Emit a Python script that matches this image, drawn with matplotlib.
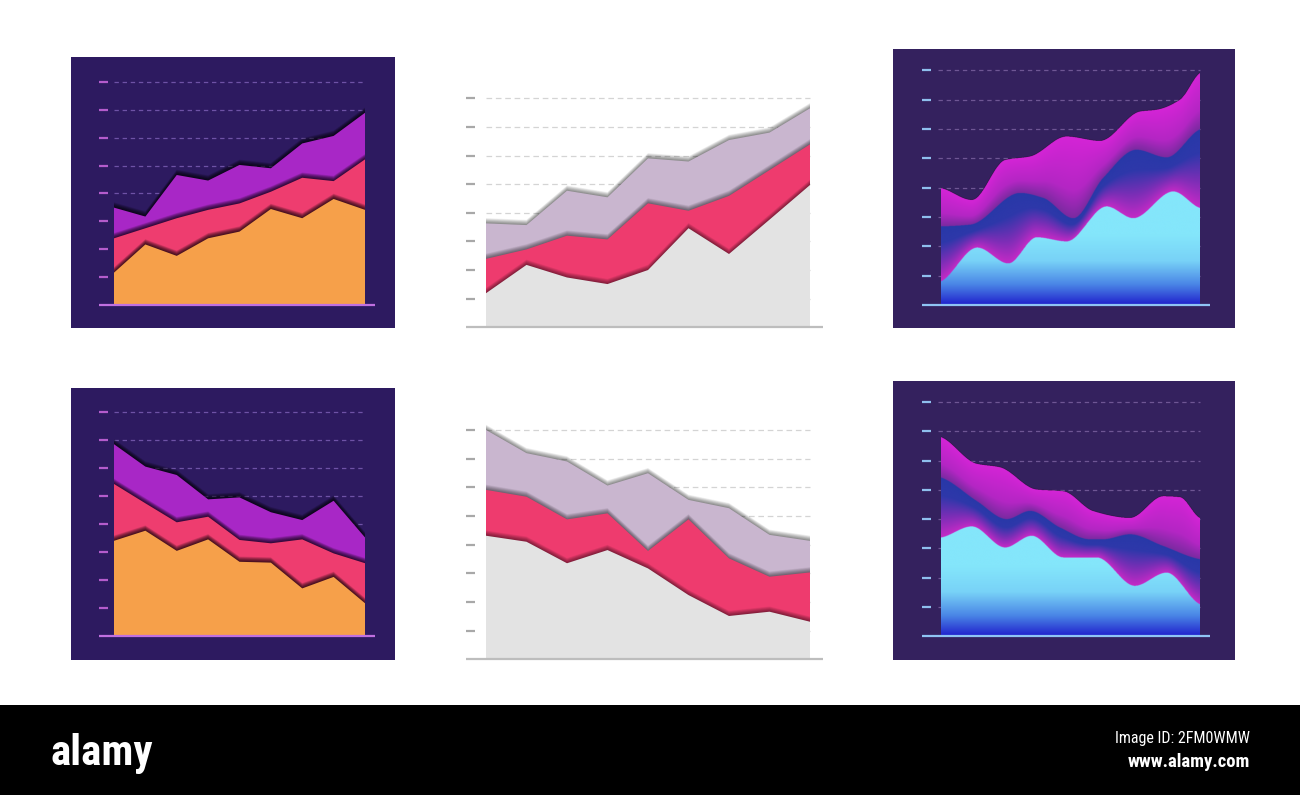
import numpy as np
import matplotlib
matplotlib.use('Agg')
import matplotlib.pyplot as plt
import matplotlib.patheffects as pe
from matplotlib.patches import Rectangle
from matplotlib.colors import to_rgb
from matplotlib import font_manager

W, H = 1300, 795

# ---------------- data ----------------
step_x = [0, 1, 2, 3, 4, 5, 6, 7, 8]
levels = [1, 2, 3, 4, 5, 6, 7, 8]

# top-left: rising, dark panel (cumulative tops)
tl_orange = [1.16, 2.17, 1.76, 2.39, 2.63, 3.44, 3.11, 3.80, 3.41]
tl_pink   = [2.39, 2.75, 3.11, 3.41, 3.64, 4.06, 4.56, 4.44, 5.22]
tl_purple = [3.49, 3.17, 4.66, 4.46, 5.02, 4.90, 5.79, 6.06, 6.89]

# top-middle: rising, white
tm_gray   = [1.19, 2.18, 1.74, 1.51, 2.00, 3.46, 2.56, 3.76, 4.97]
tm_pink   = [2.39, 2.72, 3.20, 3.07, 4.33, 4.07, 4.59, 5.49, 6.39]
tm_lav    = [3.63, 3.57, 4.77, 4.54, 5.90, 5.79, 6.54, 6.80, 7.65]

# bottom-left: falling, dark panel
bl_orange = [3.40, 3.76, 3.04, 3.45, 2.65, 2.62, 1.70, 2.11, 1.17]
bl_pink   = [5.43, 4.74, 4.06, 4.26, 3.43, 3.31, 3.45, 2.95, 2.60]
bl_purple = [6.85, 6.05, 5.75, 4.88, 4.95, 4.42, 4.14, 4.83, 3.52]

# bottom-middle: falling, white
bm_gray   = [4.31, 4.10, 3.35, 3.81, 3.17, 2.24, 1.51, 1.66, 1.31]
bm_pink   = [5.91, 5.67, 4.88, 5.09, 3.78, 4.88, 3.52, 2.88, 3.03]
bm_lav    = [8.00, 7.19, 6.90, 6.06, 6.49, 5.56, 5.27, 4.34, 4.13]

# top-right: smooth waves, rising
tr_cyan_x = [0, 1.12, 2.08, 2.96, 3.88, 5.12, 5.94, 7.18, 8.0]
tr_cyan   = [0.80, 1.95, 1.41, 2.30, 2.16, 3.35, 2.95, 3.86, 3.30]
tr_blue_x = [0, 0.90, 2.44, 3.16, 4.09, 5.01, 6.04, 6.97, 8.0]
tr_blue   = [2.67, 2.73, 3.81, 3.64, 2.95, 4.32, 5.28, 5.02, 5.97]
tr_mag_x  = [0, 0.95, 1.98, 2.75, 3.88, 4.91, 6.15, 6.66, 7.38, 8.0]
tr_mag    = [3.98, 3.58, 4.94, 5.06, 5.74, 5.59, 6.59, 6.65, 6.99, 7.90]

# bottom-right: smooth waves, falling
br_cyan_x = [0, 0.95, 1.98, 2.80, 3.78, 4.81, 5.99, 6.97, 8.0]
br_cyan   = [3.36, 3.74, 3.02, 3.42, 2.68, 2.68, 1.71, 2.16, 1.08]
br_blue_x = [0, 1.10, 2.03, 2.75, 3.68, 4.60, 5.01, 5.84, 6.87, 8.0]
br_blue   = [5.41, 4.61, 3.99, 4.27, 3.70, 3.30, 3.30, 3.47, 3.07, 2.62]
br_mag_x  = [0, 1.10, 1.82, 2.95, 3.78, 4.71, 5.84, 6.87, 7.38, 8.0]
br_mag    = [6.80, 5.89, 5.77, 5.01, 4.95, 4.27, 4.04, 4.78, 4.75, 4.04]

banner_logo = 'alamy'
banner_id = 'Image ID: 2FM0WMW'
banner_url = 'www.alamy.com'

# ---------------- helpers ----------------
fig = plt.figure(figsize=(13, 7.95), dpi=100)
fig.patch.set_facecolor('white')


def panel(x0, y0, x1, y1, color):
    fig.add_artist(Rectangle((x0 / W, 1 - y1 / H), (x1 - x0) / W, (y1 - y0) / H,
                             transform=fig.transFigure, facecolor=color,
                             edgecolor='none', zorder=0))


def make_ax(left, right, x0, x1, base, unit, tick_color, xmax=8, ymin=-0.3, ymax=8.6):
    sx = (x1 - x0) / xmax
    top = base - ymax * unit
    bot = base - ymin * unit
    ax = fig.add_axes([left / W, 1 - bot / H, (right - left) / W, (bot - top) / H])
    ax.set_facecolor('none')
    for s in ax.spines.values():
        s.set_visible(False)
    ax.set_xticks([])
    ax.set_yticks(levels)
    ax.tick_params(axis='y', direction='in', length=6.8, width=1.6,
                   colors=tick_color, labelleft=False)
    ax.set_xlim((left - x0) / sx, (right - x0) / sx)
    ax.set_ylim(ymin, ymax)
    return ax


def shadow_effects(alpha, n=10, step=0.38):
    return [pe.SimplePatchShadow(offset=(0, step * (k + 1)), shadow_rgbFace='black',
                                 alpha=alpha) for k in range(n)] + [pe.Normal()]


def stepped(ax, x, tops, colors, alpha):
    for i, (top, col) in enumerate(zip(tops, colors)):
        xs = [x[0]] + list(x) + [x[-1]]
        ys = [0] + list(top) + [0]
        poly = ax.fill(xs, ys, color=col, lw=0, zorder=3 + i)[0]
        poly.set_path_effects(shadow_effects(alpha))


def pchip(x, y, xf):
    x = np.asarray(x, float)
    y = np.asarray(y, float)
    h = np.diff(x)
    d = np.diff(y) / h
    m = np.zeros_like(y)
    for k in range(1, len(y) - 1):
        if d[k - 1] * d[k] <= 0:
            m[k] = 0.0
        else:
            w1 = 2 * h[k] + h[k - 1]
            w2 = h[k] + 2 * h[k - 1]
            m[k] = (w1 + w2) / (w1 / d[k - 1] + w2 / d[k])
    m[0] = d[0] * 0.5
    m[-1] = d[-1] * 0.5
    idx = np.clip(np.searchsorted(x, xf) - 1, 0, len(h) - 1)
    t = (xf - x[idx]) / h[idx]
    h00 = 2 * t**3 - 3 * t**2 + 1
    h10 = t**3 - 2 * t**2 + t
    h01 = -2 * t**3 + 3 * t**2
    h11 = t**3 - t**2
    return h00 * y[idx] + h10 * h[idx] * m[idx] + h01 * y[idx + 1] + h11 * h[idx] * m[idx + 1]


def ramp(v, stops):
    pos = [p for p, _ in stops]
    cols = np.array([to_rgb(c) for _, c in stops])
    return np.stack([np.interp(v, pos, cols[:, j]) for j in range(3)], axis=-1)


def waves(ax, cx, cy, bx, by, mx, my, xmax=8, ymax=8.6):
    nx, ny = 1000, 800
    xf = np.linspace(0, xmax, nx)
    yf = np.linspace(0, ymax, ny)
    c = pchip(cx, cy, xf)
    b = np.maximum(pchip(bx, by, xf), c + 0.05)
    m = np.maximum(pchip(mx, my, xf), b + 0.05)
    Y = np.repeat(yf[:, None], nx, axis=1)
    C = c[None, :]
    B = b[None, :]
    M = m[None, :]
    img = np.zeros((ny, nx, 4))
    low = Y <= C
    img[low, :3] = ramp(Y[low], [(0, '#2020cc'), (0.7, '#4a86e6'),
                                 (1.5, '#78d2f7'), (2.4, '#84e6fb')])
    mid = (Y > C) & (Y <= B)
    tt = ((Y - C) / (B - C))[mid]
    img[mid, :3] = ramp(tt, [(0, '#c42ac6'), (0.35, '#7a2eb6'),
                             (0.7, '#2e38aa'), (1, '#2838a8')])
    upp = (Y > B) & (Y <= M)
    ss = ((Y - B) / (M - B))[upp]
    img[upp, :3] = ramp(ss, [(0, '#7a2aa0'), (0.35, '#b426c4'), (1, '#d424d6')])
    img[low | mid | upp, 3] = 1.0
    ax.imshow(img, extent=[0, xmax, 0, ymax], origin='lower', aspect='auto',
              interpolation='bilinear', zorder=3)


# ---------------- top-left ----------------
DARK1 = '#2d1a60'
panel(71, 57, 395, 328, DARK1)
ax = make_ax(99, 375, 114, 365, 305, 27.9, '#b45ccc')
ax.hlines(levels, 0, 8, colors='#6e52a6', linestyles=(0, (3.5, 3)), lw=0.9, zorder=1)
stepped(ax, step_x, [tl_purple, tl_pink, tl_orange],
        ['#a827c6', '#ee3d6f', '#f6a04a'], 0.11)
ax.axhline(0, color='#c070e0', lw=1.6, zorder=10)

# ---------------- bottom-left ----------------
panel(71, 388, 395, 660, DARK1)
ax = make_ax(99, 375, 114, 365, 636, 28.0, '#b45ccc')
ax.hlines(levels, 0, 8, colors='#6e52a6', linestyles=(0, (3.5, 3)), lw=0.9, zorder=1)
stepped(ax, step_x, [bl_purple, bl_pink, bl_orange],
        ['#a827c6', '#ee3d6f', '#f6a04a'], 0.11)
ax.axhline(0, color='#c070e0', lw=1.6, zorder=10)

# ---------------- top-middle ----------------
ax = make_ax(466, 823, 486, 810, 327.3, 28.63, '#a8a8a8')
ax.hlines(levels, 0, 8, colors='#d4d4d4', linestyles=(0, (4.5, 3)), lw=0.9, zorder=1)
stepped(ax, step_x, [tm_lav, tm_pink, tm_gray],
        ['#c9b6cf', '#ee3b6e', '#e3e3e3'], 0.055)
ax.axhline(0, color='#bdbdbd', lw=1.6, zorder=10)

# ---------------- bottom-middle ----------------
ax = make_ax(466, 823, 486, 810, 659.3, 28.67, '#a8a8a8')
ax.hlines(levels, 0, 8, colors='#d4d4d4', linestyles=(0, (4.5, 3)), lw=0.9, zorder=1)
stepped(ax, step_x, [bm_lav, bm_pink, bm_gray],
        ['#c9b6cf', '#ee3b6e', '#e3e3e3'], 0.055)
ax.axhline(0, color='#bdbdbd', lw=1.6, zorder=10)

# ---------------- top-right ----------------
DARK2 = '#34215e'
panel(893, 49, 1235, 328, DARK2)
ax = make_ax(922, 1210, 941, 1200, 305, 29.33, '#8fbfee')
ax.hlines(levels, -0.1, 8, colors='#6e5694', linestyles=(0, (3.5, 3)), lw=0.9, zorder=1)
waves(ax, tr_cyan_x, tr_cyan, tr_blue_x, tr_blue, tr_mag_x, tr_mag)
ax.set_xlim((922 - 941) / (259 / 8), (1210 - 941) / (259 / 8))
ax.set_ylim(-0.3, 8.6)
ax.axhline(0, color='#8fc4f4', lw=1.6, zorder=10)

# ---------------- bottom-right ----------------
panel(893, 381, 1235, 660, DARK2)
ax = make_ax(922, 1210, 941, 1200, 636.3, 29.27, '#8fbfee')
ax.hlines(levels, -0.1, 8, colors='#6e5694', linestyles=(0, (3.5, 3)), lw=0.9, zorder=1)
waves(ax, br_cyan_x, br_cyan, br_blue_x, br_blue, br_mag_x, br_mag)
ax.set_xlim((922 - 941) / (259 / 8), (1210 - 941) / (259 / 8))
ax.set_ylim(-0.3, 8.6)
ax.axhline(0, color='#8fc4f4', lw=1.6, zorder=10)

# ---------------- bottom banner ----------------
names = {f.name for f in font_manager.fontManager.ttflist}
narrow = 'DejaVu Sans'
for cand in ['Roboto Condensed', 'Open Sans Condensed', 'Liberation Sans Narrow',
             'Roboto', 'DejaVu Sans']:
    if cand in names:
        narrow = cand
        break
logo_size = {'Roboto Condensed': 31, 'Open Sans Condensed': 31,
             'Liberation Sans Narrow': 34, 'Roboto': 27}.get(narrow, 23)

fig.add_artist(Rectangle((0, 0), 1, (795 - 705) / H, transform=fig.transFigure,
                         facecolor='black', edgecolor='none', zorder=0))
fig.text(50 / W, 1 - 765 / H, banner_logo, color='white', fontsize=logo_size,
         fontweight='bold', family=narrow, ha='left', va='baseline')
fig.text(1250 / W, 1 - 738 / H, banner_id, color='white', fontsize=11.5,
         family=narrow, ha='right', va='center')
fig.text(1250 / W, 1 - 762 / H, banner_url, color='white', fontsize=13.5,
         fontweight='bold', family=narrow, ha='right', va='center')

fig.savefig('out.png', dpi=100, facecolor='white')
